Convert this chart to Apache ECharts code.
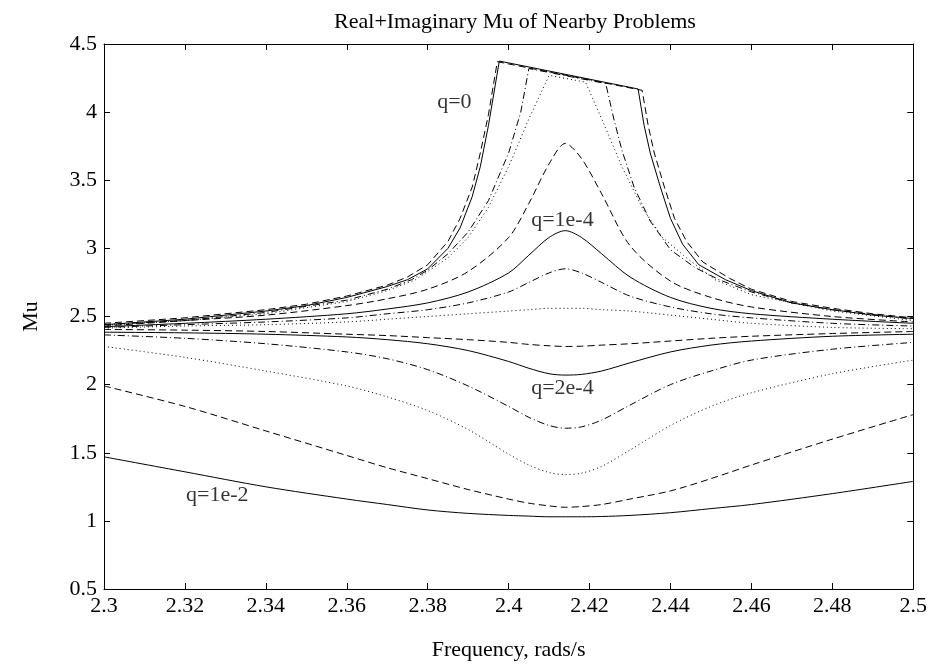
<!DOCTYPE html>
<html>
<head>
<meta charset="utf-8">
<script src="https://cdn.jsdelivr.net/npm/echarts@6/dist/echarts.min.js"></script>
<style>
html,body{margin:0;padding:0;background:#fff;}
#chart{width:930px;height:666px;}
</style>
</head>
<body>
<div id="chart"></div>
<script>
// shared frequency grid for the smooth curves
const grid = [2.30,2.32,2.34,2.36,2.37,2.38,2.39,2.40,2.405,2.41,2.414,2.418,2.423,2.43,2.44,2.45,2.46,2.48,2.50];

const curveE = [2.43,2.47,2.51,2.58,2.63,2.70,2.83,3.08,3.33,3.62,3.77,3.66,3.40,3.02,2.76,2.64,2.57,2.50,2.46];
const curveF = [2.425,2.45,2.48,2.52,2.555,2.60,2.68,2.82,2.95,3.08,3.13,3.08,2.96,2.79,2.64,2.56,2.52,2.48,2.45];
const curveG = [2.42,2.44,2.46,2.49,2.52,2.55,2.60,2.68,2.75,2.82,2.85,2.82,2.75,2.65,2.57,2.52,2.49,2.45,2.43];
const curveH = [2.415,2.43,2.44,2.46,2.48,2.50,2.52,2.54,2.55,2.56,2.56,2.56,2.55,2.54,2.51,2.48,2.45,2.42,2.41];
const curveI = [2.405,2.40,2.39,2.37,2.36,2.345,2.33,2.31,2.295,2.285,2.28,2.282,2.29,2.30,2.32,2.34,2.355,2.375,2.39];
const curveJ = [2.385,2.38,2.37,2.35,2.33,2.30,2.25,2.17,2.12,2.08,2.07,2.075,2.10,2.16,2.24,2.29,2.32,2.355,2.37];
const curveK = [2.365,2.34,2.30,2.24,2.19,2.11,1.99,1.84,1.76,1.70,1.68,1.69,1.74,1.85,2.00,2.10,2.18,2.26,2.31];
const curveL = [2.28,2.20,2.10,1.99,1.91,1.81,1.67,1.49,1.41,1.355,1.34,1.35,1.40,1.52,1.70,1.84,1.94,2.08,2.18];
const curveM = [1.99,1.84,1.66,1.48,1.39,1.31,1.23,1.16,1.13,1.11,1.10,1.105,1.12,1.16,1.22,1.31,1.41,1.60,1.78];
const curveN = [1.47,1.36,1.25,1.16,1.12,1.08,1.055,1.04,1.035,1.03,1.03,1.03,1.032,1.04,1.06,1.09,1.12,1.20,1.29];

// flat-topped curves (q = 0 and the smallest q values)
const curveA_x = [2.30,2.32,2.34,2.35,2.36,2.365,2.37,2.375,2.38,2.385,2.388,2.391,2.393,2.395,2.3972,2.433,2.4345,2.436,2.4385,2.441,2.444,2.448,2.4546,2.46,2.47,2.48,2.49,2.50];
const curveA_y = [2.45,2.49,2.55,2.59,2.65,2.69,2.73,2.79,2.88,3.05,3.22,3.45,3.70,3.98,4.37,4.16,3.90,3.70,3.45,3.22,3.05,2.90,2.78,2.70,2.61,2.56,2.52,2.49];
const curveB_x = [2.30,2.32,2.34,2.35,2.36,2.365,2.37,2.375,2.38,2.385,2.388,2.391,2.393,2.395,2.3977,2.432,2.4335,2.435,2.4375,2.440,2.443,2.447,2.4536,2.46,2.47,2.48,2.49,2.50];
const curveB_y = [2.44,2.48,2.54,2.58,2.64,2.68,2.72,2.77,2.85,3.00,3.15,3.38,3.60,3.90,4.375,4.17,3.90,3.70,3.45,3.22,3.03,2.88,2.77,2.69,2.60,2.55,2.51,2.485];
const curveC_x = [2.30,2.32,2.34,2.36,2.37,2.376,2.38,2.385,2.39,2.395,2.40,2.403,2.405,2.424,2.426,2.428,2.431,2.435,2.44,2.446,2.452,2.46,2.47,2.48,2.50];
const curveC_y = [2.44,2.47,2.53,2.62,2.70,2.77,2.84,2.96,3.12,3.35,3.70,4.00,4.32,4.21,3.95,3.72,3.45,3.20,2.99,2.86,2.77,2.68,2.60,2.55,2.48];
const curveD_x = [2.30,2.32,2.34,2.36,2.37,2.377,2.385,2.39,2.395,2.40,2.405,2.41,2.419,2.423,2.428,2.433,2.438,2.444,2.451,2.46,2.48,2.50];
const curveD_y = [2.435,2.47,2.52,2.61,2.69,2.77,2.93,3.08,3.30,3.60,3.95,4.27,4.22,3.95,3.60,3.30,3.08,2.93,2.77,2.66,2.54,2.47];

const labelText = ['q=0','q=1e-4','q=2e-4','q=1e-2'];
const labelX = [2.3866, 2.4133, 2.4133, 2.328];
const labelY = [4.07, 3.21, 1.975, 1.19];

const xTicks = [2.3,2.32,2.34,2.36,2.38,2.4,2.42,2.44,2.46,2.48,2.5];
const yTicks = [0.5,1,1.5,2,2.5,3,3.5,4,4.5];

const FONT = '"Liberation Serif", "Times New Roman", serif';
const DASH = {solid:'solid', dashed:[7,4], dotted:[1,3], dashdot:[7,3,1,3]};

function pairs(xs, ys){ return xs.map((x,i)=>[x, ys[i]]); }

const curves = [
  {d: pairs(curveA_x, curveA_y), s:'dashed', sm:false},
  {d: pairs(curveB_x, curveB_y), s:'solid', sm:false},
  {d: pairs(curveC_x, curveC_y), s:'dashdot', sm:false},
  {d: pairs(curveD_x, curveD_y), s:'dotted', sm:false},
  {d: pairs(grid, curveE), s:'dashed', sm:true},
  {d: pairs(grid, curveF), s:'solid', sm:true},
  {d: pairs(grid, curveG), s:'dashdot', sm:true},
  {d: pairs(grid, curveH), s:'dotted', sm:true},
  {d: pairs(grid, curveI), s:'dashed', sm:true},
  {d: pairs(grid, curveJ), s:'solid', sm:true},
  {d: pairs(grid, curveK), s:'dashdot', sm:true},
  {d: pairs(grid, curveL), s:'dotted', sm:true},
  {d: pairs(grid, curveM), s:'dashed', sm:true},
  {d: pairs(grid, curveN), s:'solid', sm:true}
];

const series = curves.map(c => ({
  type:'line', data:c.d, showSymbol:false, symbol:'none',
  smooth: c.sm ? 0.3 : false,
  lineStyle:{color:'#000', width:1, type: DASH[c.s]},
  silent:true, z:2
}));
series.push({
  type:'scatter', symbolSize:0, silent:true, z:5,
  data: labelText.map((t,i)=>({value:[labelX[i], labelY[i]], name:t})),
  label:{show:true, position:'inside', formatter:p=>p.name, color:'#000', fontSize:22, fontFamily:FONT}
});

const fmt = v => String(Math.round(v*1000)/1000);
const axisCommon = {
  axisLine:{show:true, onZero:false, lineStyle:{color:'#000', width:1}},
  axisTick:{show:true, inside:true, length:6, lineStyle:{color:'#000', width:1}},
  splitLine:{show:false}
};

const chart = echarts.init(document.getElementById('chart'), null, {renderer:'canvas'});
chart.setOption({
  animation:false,
  backgroundColor:'#fff',
  title:{text:'Real+Imaginary Mu of Nearby Problems', left:510, top:6, textAlign:'center',
    textStyle:{fontFamily:FONT, fontSize:22, fontWeight:'normal', color:'#000'}},
  grid:{left:104, right:15, top:44, bottom:74, containLabel:false},
  xAxis:[
    Object.assign({type:'value', min:xTicks[0], max:xTicks[xTicks.length-1], interval:0.02, position:'bottom',
      name:'Frequency, rads/s', nameLocation:'middle', nameGap:50,
      nameTextStyle:{fontFamily:FONT, fontSize:22, color:'#000'},
      axisLabel:{formatter:fmt, fontFamily:FONT, fontSize:22, color:'#000', margin:6}}, axisCommon),
    Object.assign({type:'value', min:xTicks[0], max:xTicks[xTicks.length-1], interval:0.02, position:'top',
      axisLabel:{show:false}}, axisCommon)
  ],
  yAxis:[
    Object.assign({type:'value', min:yTicks[0], max:yTicks[yTicks.length-1], interval:0.5, position:'left',
      name:'Mu', nameLocation:'middle', nameGap:62, nameRotate:90,
      nameTextStyle:{fontFamily:FONT, fontSize:22, color:'#000'},
      axisLabel:{formatter:fmt, fontFamily:FONT, fontSize:22, color:'#000', margin:7}}, axisCommon),
    Object.assign({type:'value', min:yTicks[0], max:yTicks[yTicks.length-1], interval:0.5, position:'right',
      axisLabel:{show:false}}, axisCommon)
  ],
  series: series
});
</script>
</body>
</html>
